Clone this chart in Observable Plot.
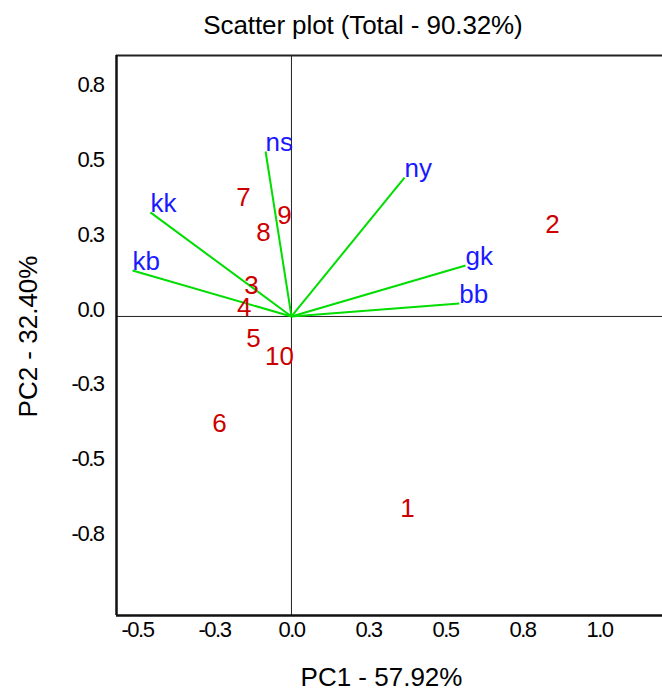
<!DOCTYPE html>
<html><head><meta charset="utf-8">
<script src="https://cdn.jsdelivr.net/npm/d3@7"></script>
<script src="https://cdn.jsdelivr.net/npm/@observablehq/plot@0.6"></script>
<style>
body{margin:0;background:#fff;font-family:"Liberation Sans",Arial,sans-serif;}
#head{position:relative;height:50px;width:662px;}
#title{position:absolute;left:363px;top:0;transform:translateX(-50%);white-space:nowrap;font-size:26px;letter-spacing:-0.1px;line-height:50px;color:#000;}
svg{font-family:"Liberation Sans",Arial,sans-serif;}
g[aria-label="x-axis tick label"] text, g[aria-label="y-axis tick label"] text{letter-spacing:-1.5px;}
g[aria-label="obs"] text{letter-spacing:-1px;}
g[aria-label="vars"] text{letter-spacing:-1.5px;}
g[aria-label="xtitle"] text{letter-spacing:-1.3px;}
g[aria-label="ytitle"] text{letter-spacing:-0.3px;}
</style>
</head><body>
<div id="head"><div id="title">Scatter plot (Total - 90.32%)</div></div>
<div id="chart"></div>
<script>
const obsLabels = ["1","2","3","4","5","6","7","8","9","10"];
const obsPC1 = [0.377, 0.847, -0.130, -0.153, -0.123, -0.234, -0.156, -0.091, -0.023, -0.039];
const obsPC2 = [-0.640, 0.307, 0.103, 0.030, -0.073, -0.357, 0.397, 0.280, 0.337, -0.133];

const varLabels = ["ns","kk","kb","ny","gk","bb"];
const varPC1 = [-0.084, -0.458, -0.516, 0.367, 0.565, 0.545];
const varPC2 = [0.550, 0.347, 0.153, 0.463, 0.170, 0.043];

const xTicks = [-0.5, -0.25, 0, 0.25, 0.5, 0.75, 1.0];
const xTickLabels = ["-0.5","-0.3","0.0","0.3","0.5","0.8","1.0"];
const yTicks = [0.75, 0.5, 0.25, 0, -0.25, -0.5, -0.75];
const yTickLabels = ["0.8","0.5","0.3","0.0","-0.3","-0.5","-0.8"];

const xDomain = [-0.568, 1.2045];
const yDomain = [-0.997, 0.87];

const obs = obsLabels.map((l,i)=>({label:l, pc1:obsPC1[i], pc2:obsPC2[i]}));
const vars = varLabels.map((l,i)=>({label:l, pc1:varPC1[i], pc2:varPC2[i]}));
const xMap = new Map(xTicks.map((t,i)=>[t, xTickLabels[i]]));
const yMap = new Map(yTicks.map((t,i)=>[t, yTickLabels[i]]));

const chart = Plot.plot({
  width: 662,
  height: 647,
  marginLeft: 116,
  marginRight: 0,
  marginTop: 5,
  marginBottom: 82,
  x: {domain: xDomain},
  y: {domain: yDomain},
  marks: [
    Plot.ruleX([0], {stroke:"#222", strokeWidth:1}),
    Plot.ruleY([0], {stroke:"#222", strokeWidth:1}),
    Plot.ruleY([yDomain[1]], {stroke:"#222", strokeWidth:2}),
    Plot.ruleY([yDomain[0]], {stroke:"#111", strokeWidth:2.5}),
    Plot.ruleX([xDomain[0]], {stroke:"#111", strokeWidth:2.5}),
    Plot.axisX({ticks: xTicks, tickFormat: d=>xMap.get(d), tickSize:0, tickPadding:6, fontSize:22, label:null, fill:"#000"}),
    Plot.axisY({ticks: yTicks, tickFormat: d=>yMap.get(d), tickSize:0, tickPadding:13, fontSize:22, dy:-7, label:null, fill:"#000"}),
    Plot.link(vars, {x1:0, y1:0, x2:"pc1", y2:"pc2", stroke:"#00dd00", strokeWidth:2}),
    Plot.text(vars, {x:"pc1", y:"pc2", text:"label", fill:"#1a1aff", fontSize:26, textAnchor:"start", dy:-9, ariaLabel:"vars"}),
    Plot.text(obs, {x:"pc1", y:"pc2", text:"label", fill:"#cc0000", fontSize:26, ariaLabel:"obs"}),
    Plot.text(["PC1 - 57.92%"], {frameAnchor:"bottom", textAnchor:"middle", dx:-8, dy:70, fontSize:26, fill:"#000", ariaLabel:"xtitle"}),
    Plot.text(["PC2 - 32.40%"], {frameAnchor:"left", textAnchor:"middle", lineAnchor:"middle", rotate:-90, dx:-88, dy:1, fontSize:26, fill:"#000", ariaLabel:"ytitle"})
  ]
});
document.getElementById("chart").appendChild(chart);
</script>
</body></html>
